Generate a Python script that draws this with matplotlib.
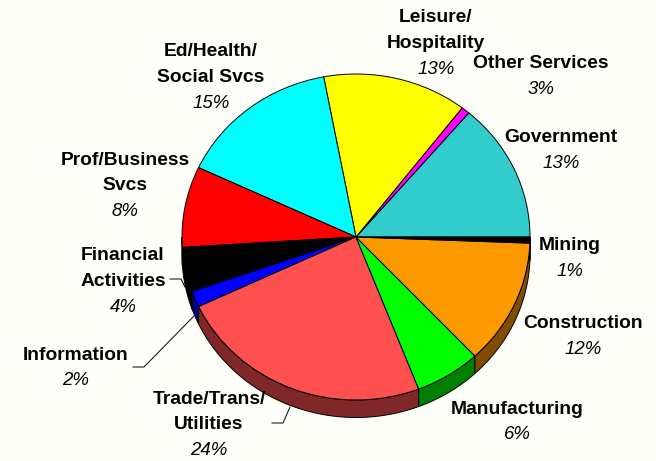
import numpy as np
import matplotlib
matplotlib.use("Agg")
import matplotlib.pyplot as plt
from matplotlib.patches import Polygon

# counterclockwise from 3 o'clock; sizes are what the slices measure in the picture
labels = ["Government", "Other Services", "Leisure/\nHospitality", "Ed/Health/\nSocial Svcs",
          "Prof/Business\nSvcs", "Financial\nActivities", "Information", "Trade/Trans/\nUtilities",
          "Manufacturing", "Construction", "Mining"]
pct_text = ["13%", "3%", "13%", "15%", "8%", "4%", "2%", "24%", "6%", "12%", "1%"]
sizes = [13.75, 0.78, 13.4, 15.0, 8.0, 4.4, 1.6, 23.8, 6.1, 12.4, 0.6]
colors = ["#33CCCC", "#FF00FF", "#FFFF00", "#00FFFF", "#FF0000", "#000000", "#0000FF",
          "#FF5050", "#00FF00", "#FF9900", "#000000"]
side_colors = ["#1A6666", "#800080", "#808000", "#008080", "#800000", "#000000", "#000080",
               "#802828", "#008000", "#804D00", "#000000"]

W, H = 656, 461
BG = "#FFFFF9"
CX, CY, RX, RY = 356, 237, 174, 163
DEPTH = 17.5 / RY

# centre of first text line of each label, in pixels
label_pos = [(561, 138), (541, 64), (436, 18), (211, 52), (125, 160), (123, 256),
             (76, 355), (209, 399), (517, 409), (583, 324), (570, 246)]
LINE_STEP = 25.5

# leader lines, pixels
leaders = [[(170, 279), (181, 279), (185, 287)],
           [(133, 367), (144, 367), (194, 316)],
           [(272, 423), (283, 423), (290, 407)]]

fig = plt.figure(figsize=(W / 100, H / 100), dpi=100, facecolor=BG)
ax = fig.add_axes([(CX - RX) / W, 1 - (CY + RY) / H, 2 * RX / W, 2 * RY / H])
wedges, _ = ax.pie(sizes, colors=colors, startangle=0, counterclock=True, radius=1,
                   wedgeprops={"edgecolor": "black", "linewidth": 0.7, "zorder": 3})
for w in wedges:
    w.set_clip_on(False)
ax.set_aspect("auto")
ax.set_xlim(-1, 1)
ax.set_ylim(-1, 1)
ax.axis("off")

# side wall of the tilted pie
for w, c in zip(wedges, side_colors):
    t1, t2 = max(w.theta1, 180), min(w.theta2, 360)
    if t2 <= t1:
        continue
    t = np.radians(np.linspace(t1, t2, 60))
    top = np.column_stack([np.cos(t), np.sin(t)])
    bottom = top[::-1] - [0, DEPTH]
    ax.add_patch(Polygon(np.vstack([top, bottom]), closed=True, facecolor=c,
                         edgecolor="black", linewidth=0.7, zorder=2, clip_on=False))


def px(x, y):
    return x / W, 1 - y / H


for lab, pct, (x, y) in zip(labels, pct_text, label_pos):
    lines = lab.split("\n")
    for i, line in enumerate(lines):
        fig.text(*px(x, y + i * LINE_STEP), line, family="Liberation Sans", weight="bold",
                 fontsize=13.9, ha="center", va="center", color="black", zorder=5)
    fig.text(*px(x, y + len(lines) * LINE_STEP), pct, family="Liberation Sans", style="italic",
             fontsize=13.4, ha="center", va="center", color="black", zorder=5)

for pts in leaders:
    xs, ys = zip(*[px(*p) for p in pts])
    fig.add_artist(plt.Line2D(xs, ys, color="black", linewidth=0.7))

fig.savefig("out.png", dpi=100, facecolor=BG)
